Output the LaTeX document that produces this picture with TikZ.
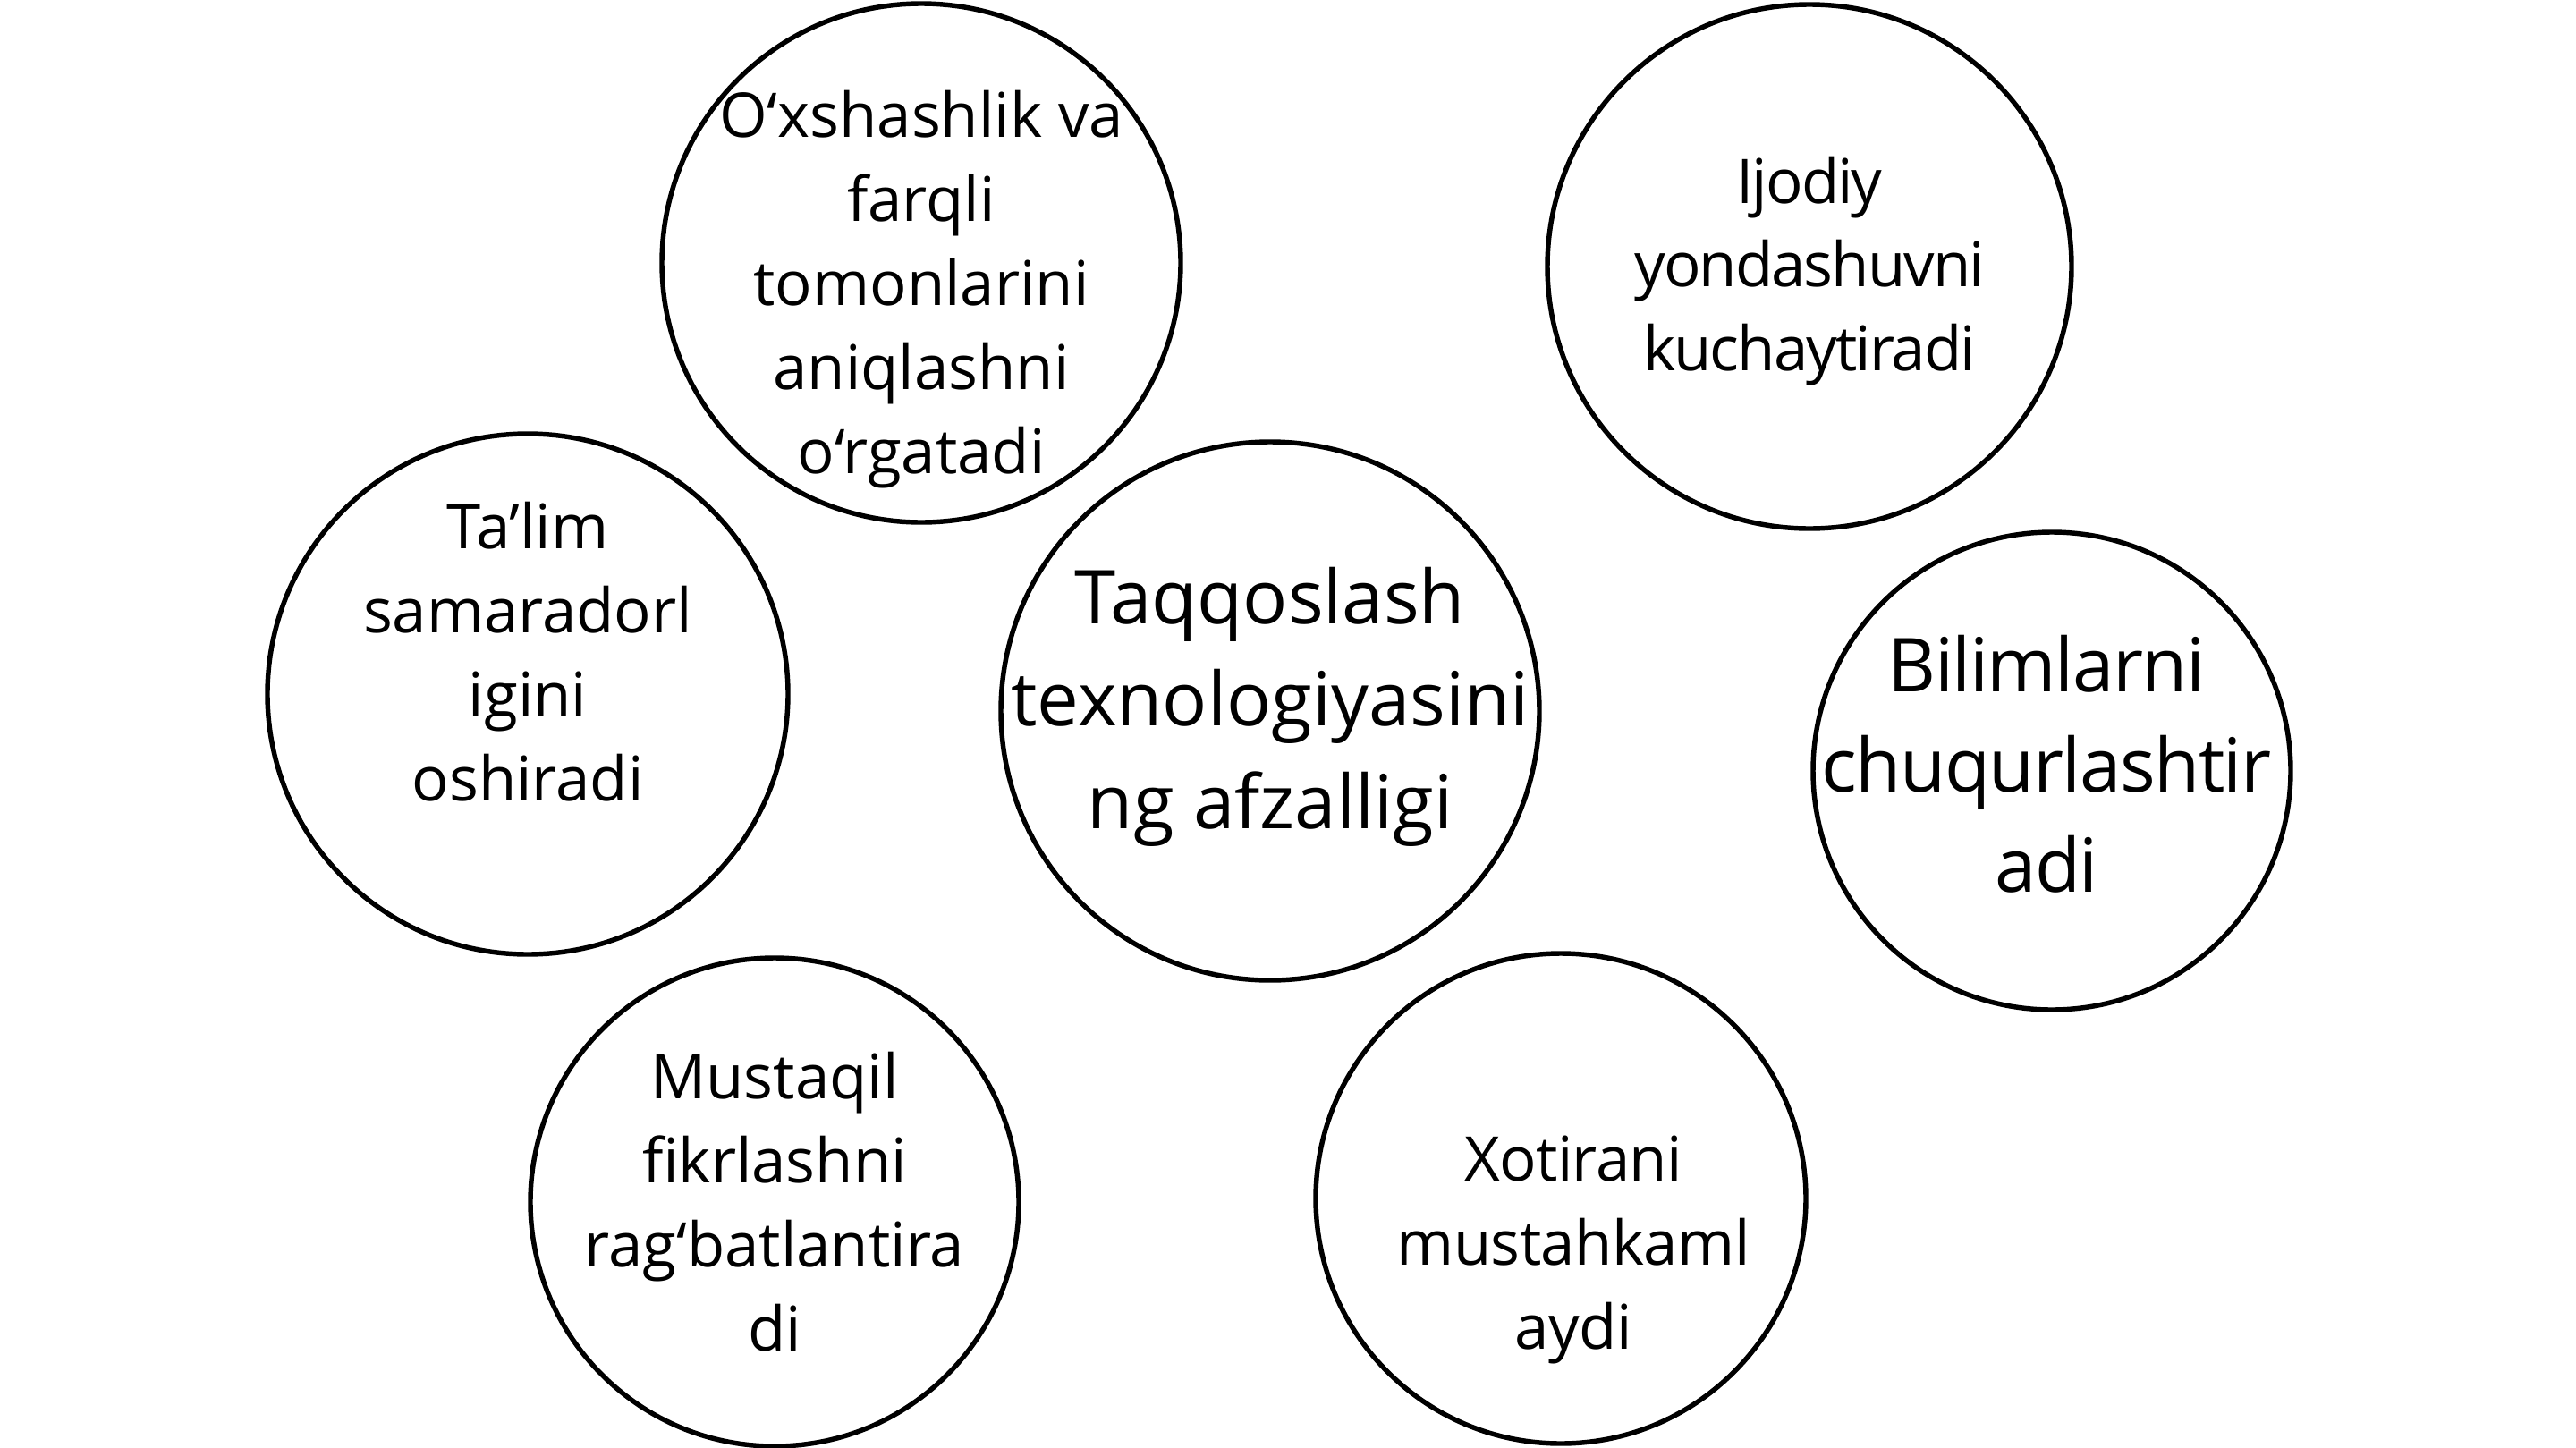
\documentclass[tikz,border=0pt]{standalone}
\usepackage{fontspec}
\setmainfont{Open Sans}
\tikzset{
  bubble/.style={circle, draw, line width=1.55pt, inner sep=0pt},
  txt/.style={align=center, inner sep=0pt, font=\fontsize{19.6pt}{26.75pt}\selectfont},
  txtbig/.style={align=center, inner sep=0pt, font=\fontsize{23.7pt}{32.6pt}\selectfont}
}
\begin{document}
\begin{tikzpicture}
  \useasboundingbox (0,0) rectangle (28.8,-16.19);
  % circles
  \node[bubble, minimum size=5.80cm] (oxsh) at (10.30,-2.94) {};
  \node[bubble, minimum size=5.86cm] (ijod) at (20.23,-2.98) {};
  \node[bubble, minimum size=5.82cm] (talim) at (5.90,-7.76) {};
  \node[bubble, minimum size=6.02cm] (main) at (14.20,-7.95) {};
  \node[bubble, minimum size=5.34cm] (bilim) at (22.94,-8.62) {};
  \node[bubble, minimum size=5.46cm] (must) at (8.66,-13.44) {};
  \node[bubble, minimum size=5.48cm] (xoti) at (17.45,-13.40) {};
  % texts
  \node[txt] (toxsh) at ([yshift=-0.30cm]oxsh.center)
    {O‘xshashlik va\\farqli\\tomonlarini\\aniqlashni\\o‘rgatadi};
  \node[txt, font=\fontsize{19.6pt}{26.5pt}\selectfont\addfontfeatures{LetterSpace=-2.8}] (tijod) at ([yshift=-0.05cm]ijod.center)
    {Ijodiy\\yondashuvni\\kuchaytiradi};
  \node[txt] (ttalim) at ([yshift=0.47cm]talim.center)
    {Ta’lim\\samaradorl\\igini\\oshiradi};
  \node[txtbig] (tmain) at ([yshift=0.05cm]main.center)
    {Taqqoslash\\texnologiyasini\\ng afzalligi};
  \node[txtbig, font=\fontsize{23.7pt}{31.8pt}\selectfont\addfontfeatures{LetterSpace=-1.8}] (tbilim) at ([xshift=-0.06cm,yshift=0.08cm]bilim.center)
    {Bilimlarni\\chuqurlashtir\\adi};
  \node[txt] (tmust) at ([yshift=0.0cm]must.center)
    {Mustaqil\\fikrlashni\\rag‘batlantira\\di};
  \node[txt, font=\fontsize{19.6pt}{26.75pt}\selectfont\addfontfeatures{LetterSpace=-0.8}] (txoti) at ([xshift=0.14cm,yshift=-0.57cm]xoti.center)
    {Xotirani\\mustahkaml\\aydi};
\end{tikzpicture}
\end{document}
